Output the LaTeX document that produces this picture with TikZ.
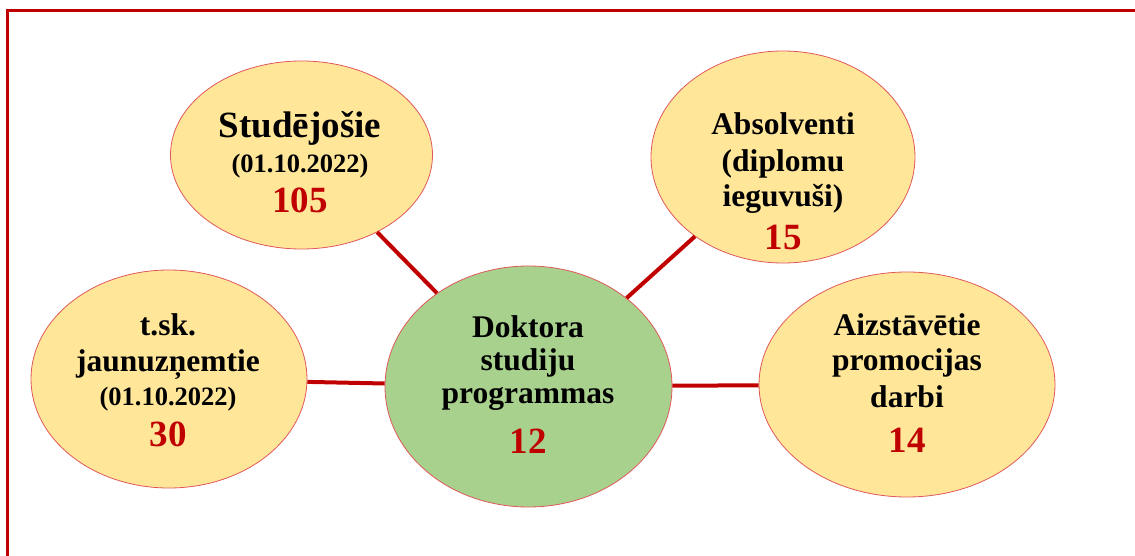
\documentclass[tikz,border=0pt]{standalone}
\usepackage{xcolor}
\usepackage{fontspec}
\setmainfont{Liberation Serif}
\usepackage{tikz}
\usetikzlibrary{shapes.geometric}
\definecolor{darkred}{HTML}{C00000}
\definecolor{bubbleyellow}{HTML}{FFE699}
\definecolor{bubblegreen}{HTML}{A9D18E}
\definecolor{rimred}{HTML}{E0585A}
\tikzstyle{bubble} = [ellipse, draw=rimred, line width=0.8pt, fill=bubbleyellow, inner sep=0pt]
\tikzstyle{txt} = [align=center, inner sep=0pt, font=\bfseries\fontsize{31.5}{35}\selectfont]
\tikzstyle{link} = [draw=darkred, line width=4pt]
\newcommand{\bignum}[1]{{\color{darkred}\fontsize{37}{35}\selectfont #1}}
\newcommand{\datum}[1]{{\fontsize{26.5}{35}\selectfont #1}}

\begin{document}
\begin{tikzpicture}[x=1pt, y=1pt]
    \useasboundingbox (0,0) rectangle (1135,555);
    % outer frame
    \draw[darkred, line width=3pt] (7,544) rectangle (1150,-10);

    % bubbles
    \node[bubble, minimum width=262pt, minimum height=188pt] (stud) at (301.5,400) {};
    \node[bubble, minimum width=276pt, minimum height=218pt] (tsk) at (169,176) {};
    \node[bubble, fill=bubblegreen, minimum width=287pt, minimum height=241pt] (dsp) at (528.5,168.5) {};
    \node[bubble, minimum width=264pt, minimum height=212pt] (absol) at (783,398) {};
    \node[bubble, minimum width=296pt, minimum height=225pt] (aizst) at (907,170.5) {};

    % links
    \draw[link] (stud) -- (dsp);
    \draw[link] (absol) -- (dsp);
    \draw[link] (tsk) -- (dsp);
    \draw[link] (dsp) -- (aizst);

    % texts
    \node[txt] (studtxt) at (300,393) {{\fontsize{37}{35}\selectfont Studējošie}\\
        \datum{(01.10.2022)}\\[5pt]
        \bignum{105}};
    \node[txt] (tsktxt) at (168,174.5) {t.sk.\\[1pt]
        jaunuzņemtie\\[-1pt]
        \datum{(01.10.2022)}\\[6pt]
        \bignum{30}};
    \node[txt] (dsptxt) at (528,170.5) {Doktora\\[-2pt]
        studiju\\[-2pt]
        programmas\\[15pt]
        \bignum{12}};
    \node[txt] (absoltxt) at (783,373.5) {Absolventi\\[2pt]
        (diplomu\\
        ieguvuši)\\[8pt]
        \bignum{15}};
    \node[txt] (aizsttxt) at (907,172) {Aizstāvētie\\
        promocijas\\[2pt]
        darbi\\[10pt]
        \bignum{14}};
\end{tikzpicture}
\end{document}
